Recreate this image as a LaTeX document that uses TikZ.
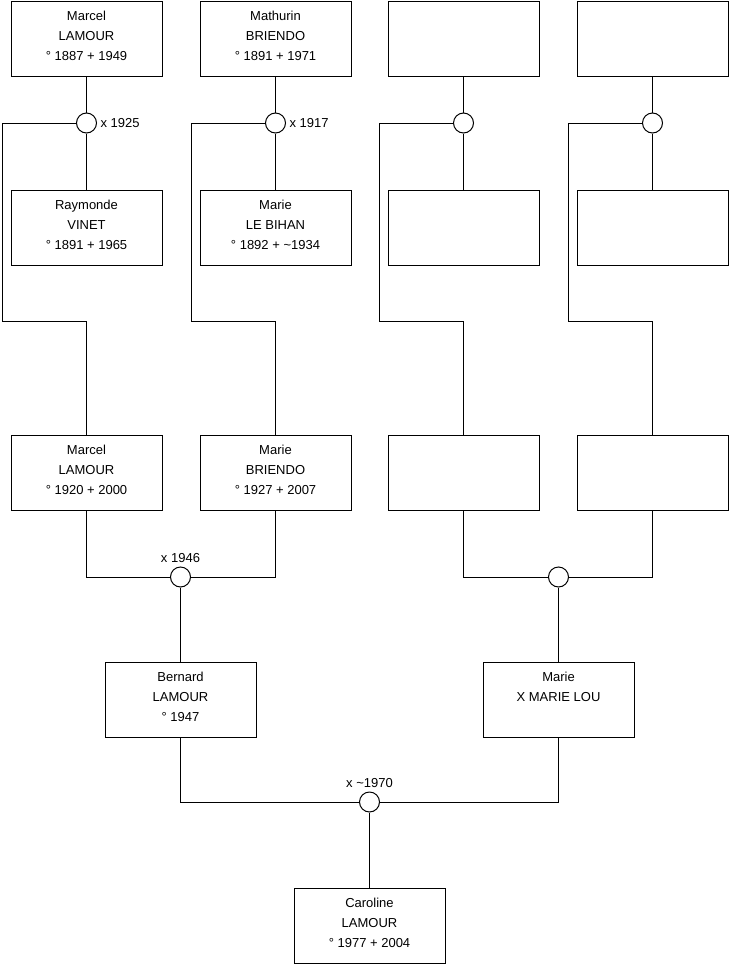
\documentclass[tikz,border=0pt]{standalone}
\usepackage{fontspec}
\setmainfont{Liberation Sans}
\usetikzlibrary{positioning}

\begin{document}
\begin{tikzpicture}[
    x=1pt, y=-1pt,
    line width=1pt,
    person/.style={
        draw, rectangle, minimum width=151pt, minimum height=75pt,
        align=center, inner sep=0pt, text height=50pt, text depth=7pt,
        font=\fontsize{13}{20}\selectfont
    },
    union/.style={draw, circle, minimum size=20pt, inner sep=0pt},
    year/.style={font=\fontsize{13}{15}\selectfont, inner sep=2pt}
]
    \useasboundingbox (0,0) rectangle (740,975);

    % Great-grandparents
    \node[person] (mlamour) at (86.5, 38.5) {Marcel\\LAMOUR\\° 1887 + 1949};
    \node[person] (mbriendo) at (275.5, 38.5) {Mathurin\\BRIENDO\\° 1891 + 1971};
    \node[person] (gp3) at (463.5, 38.5) {};
    \node[person] (gp4) at (652.5, 38.5) {};

    \node[union] (u1) at (86.5, 123) {};
    \node[union] (u2) at (275.5, 123) {};
    \node[union] (u3) at (463.5, 123) {};
    \node[union] (u4) at (652.5, 123) {};
    \node[year, right=1pt of u1] {x 1925};
    \node[year, right=1pt of u2] {x 1917};

    \node[person] (rvinet) at (86.5, 227.5) {Raymonde\\VINET\\° 1891 + 1965};
    \node[person] (mlebihan) at (275.5, 227.5) {Marie\\LE BIHAN\\° 1892 + \textasciitilde 1934};
    \node[person] (gm3) at (463.5, 227.5) {};
    \node[person] (gm4) at (652.5, 227.5) {};

    \foreach \a/\u/\b in {mlamour/u1/rvinet, mbriendo/u2/mlebihan, gp3/u3/gm3, gp4/u4/gm4}
        \draw (\a) -- (\u) -- (\b);

    % Grandparents
    \node[person] (mlamour2) at (86.5, 472.5) {Marcel\\LAMOUR\\° 1920 + 2000};
    \node[person] (mbriendo2) at (275.5, 472.5) {Marie\\BRIENDO\\° 1927 + 2007};
    \node[person] (g3) at (463.5, 472.5) {};
    \node[person] (g4) at (652.5, 472.5) {};

    \coordinate (k1) at (2, 123);
    \coordinate (k2) at (191, 123);
    \coordinate (k3) at (379, 123);
    \coordinate (k4) at (568, 123);
    \coordinate (j1) at (2, 321);
    \coordinate (j2) at (191, 321);
    \coordinate (j3) at (379, 321);
    \coordinate (j4) at (568, 321);

    \foreach \i/\c in {1/mlamour2, 2/mbriendo2, 3/g3, 4/g4}
        \draw (u\i.west) -- (k\i) -- (j\i) -| (\c.north);

    \node[union] (u5) at (180.5, 577) {};
    \node[union] (u6) at (558.5, 577) {};
    \node[year, above=1pt of u5] {x 1946};

    \draw (mlamour2.south) |- (u5.west);
    \draw (mbriendo2.south) |- (u5.east);
    \draw (g3.south) |- (u6.west);
    \draw (g4.south) |- (u6.east);

    % Parents
    \node[person] (blamour) at (180.5, 699.5) {Bernard\\LAMOUR\\° 1947};
    \node[person] (mmarielou) at (558.5, 699.5) {Marie\\X MARIE LOU\\\mbox{}};

    \draw (u5) -- (blamour);
    \draw (u6) -- (mmarielou);

    \node[union] (u7) at (369.5, 802) {};
    \node[year, above=1pt of u7] {x \textasciitilde 1970};

    \draw (blamour.south) |- (u7.west);
    \draw (mmarielou.south) |- (u7.east);

    \node[person] (clamour) at (369.5, 925.5) {Caroline\\LAMOUR\\° 1977 + 2004};
    \draw (u7) -- (clamour);
\end{tikzpicture}
\end{document}
